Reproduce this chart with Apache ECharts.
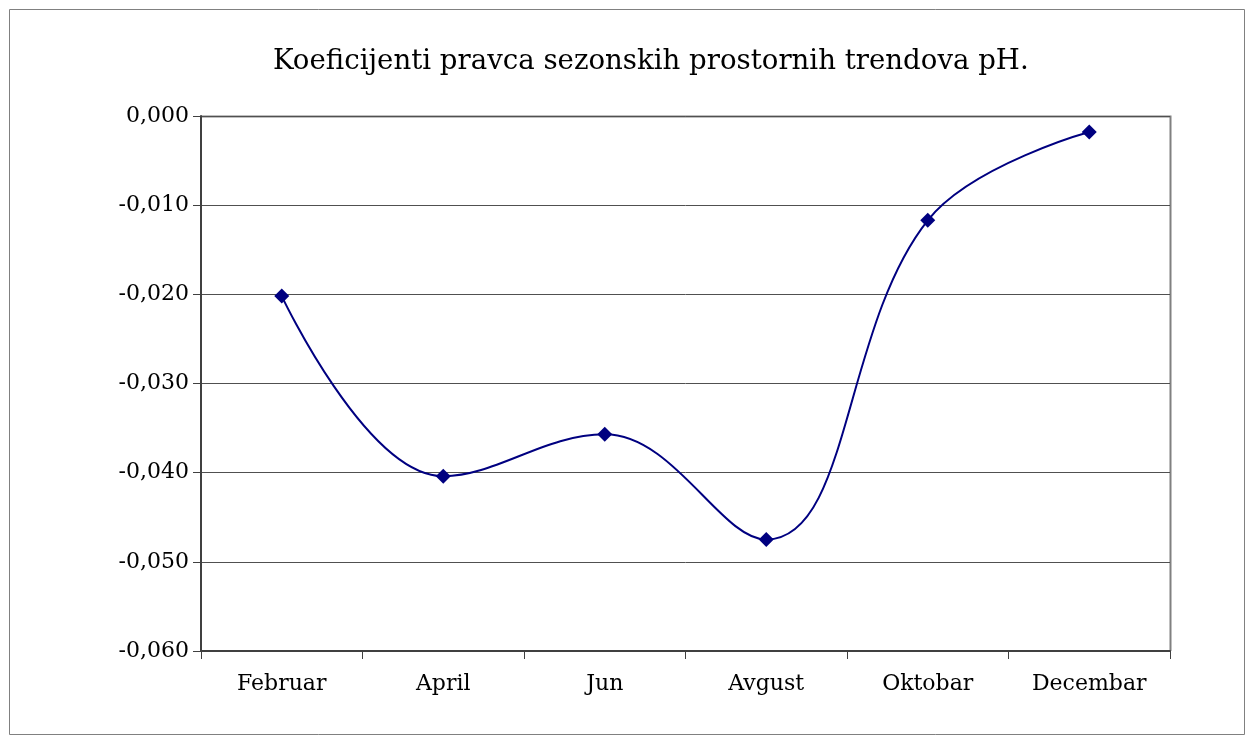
<!DOCTYPE html>
<html>
<head>
<meta charset="utf-8">
<script src="https://cdn.jsdelivr.net/npm/echarts@6/dist/echarts.min.js"></script>
<style>
  html, body { margin: 0; padding: 0; background: #fff; }
  #chart { width: 1255px; height: 744px; }
</style>
</head>
<body>
<div id="chart"></div>
<script>
// podaci sa grafika
const months = ['Februar', 'April', 'Jun', 'Avgust', 'Oktobar', 'Decembar'];
const slopes = [-0.0202, -0.0404, -0.0357, -0.0475, -0.0117, -0.0018];

const fontName = 'DejaVu Serif';

const chart = echarts.init(document.getElementById('chart'));

const option = {
    animation: false,
    backgroundColor: '#fff',
    title: {
        text: 'Koeficijenti pravca sezonskih prostornih trendova pH.',
        left: 268,
        top: 43,
        textStyle: {
            fontFamily: fontName,
            fontSize: 27.6,
            fontWeight: 'normal',
            color: '#000',
        },
    },
    graphic: [{
        type: 'rect',
        shape: { x: 9.5, y: 9.5, width: 1235, height: 725 },
        style: { fill: 'none', stroke: '#808080', lineWidth: 1 },
    }, {
        // okvir desno i gore
        type: 'polyline',
        shape: { points: [[201, 116.5], [1170.5, 116.5], [1170.5, 651]] },
        style: { fill: 'none', stroke: '#808080', lineWidth: 2 },
    }],
    grid: {
        left: 201,
        right: 85,
        top: 116,
        bottom: 93,
    },
    xAxis: {
        type: 'category',
        data: months,
        boundaryGap: true,
        axisLine: { onZero: false, lineStyle: { color: '#404040', width: 2 } },
        axisTick: { show: true, length: 8, lineStyle: { color: '#404040' } },
        axisLabel: {
            fontFamily: fontName,
            fontSize: 22,
            color: '#000',
            margin: 22,
        },
    },
    yAxis: {
        type: 'value',
        min: -0.06,
        max: 0,
        interval: 0.01,
        axisLine: { show: true, lineStyle: { color: '#404040', width: 2 } },
        axisTick: { show: true, length: 8, lineStyle: { color: '#404040' } },
        splitLine: { lineStyle: { color: '#505050', width: 1 } },
        axisLabel: {
            fontFamily: fontName,
            fontSize: 22,
            color: '#000',
            margin: 12,
            formatter: v => v.toFixed(3).replace('.', ','),
        },
    },
    series: [{
        type: 'line',
        data: slopes,
        smooth: 0.4,
        symbol: 'diamond',
        symbolSize: 15,
        lineStyle: { color: '#000080', width: 2 },
        itemStyle: { color: '#000080' },
    }],
};

chart.setOption(option);
</script>
</body>
</html>
